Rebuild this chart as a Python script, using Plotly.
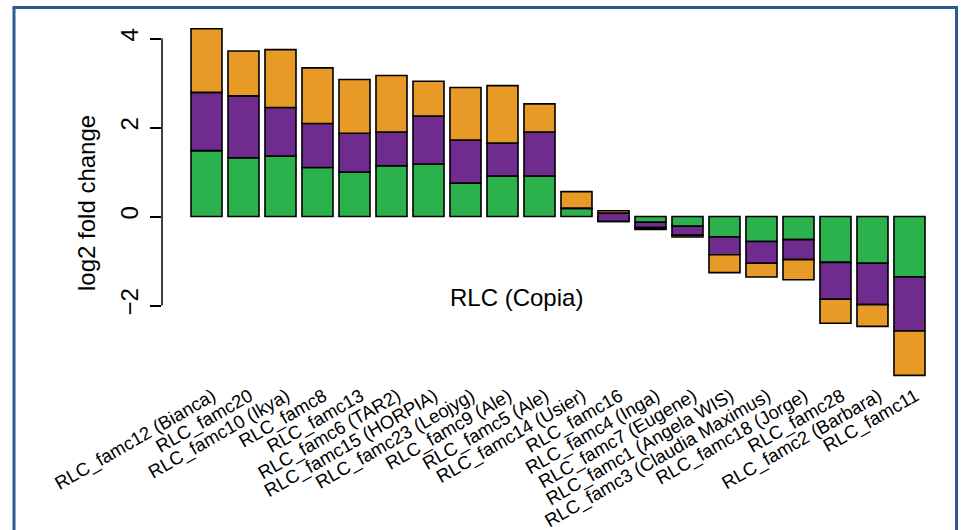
import numpy as np
import plotly.graph_objects as go

# Copia (RLC) families, ordered by total change
families = [
    "RLC_famc12 (Bianca)", "RLC_famc20", "RLC_famc10 (Ikya)", "RLC_famc8",
    "RLC_famc13", "RLC_famc6 (TAR2)", "RLC_famc15 (HORPIA)", "RLC_famc23 (Leojyg)",
    "RLC_famc9 (Ale)", "RLC_famc5 (Ale)", "RLC_famc14 (Usier)", "RLC_famc16",
    "RLC_famc4 (Inga)", "RLC_famc7 (Eugene)", "RLC_famc1 (Angela WIS)",
    "RLC_famc3 (Claudia Maximus)", "RLC_famc18 (Jorge)", "RLC_famc28",
    "RLC_famc2 (Barbara)", "RLC_famc11",
]

# log2 fold change contributed by each of the three stacked components
green_lfc = [1.48, 1.32, 1.36, 1.10, 1.00, 1.14, 1.18, 0.75, 0.91, 0.91,
             0.18, -0.11, -0.13, -0.22, -0.46, -0.56, -0.52, -1.03, -1.05, -1.36]
purple_lfc = [1.31, 1.39, 1.09, 0.99, 0.87, 0.76, 1.08, 0.97, 0.74, 0.99,
              0.01, 0.19, -0.12, -0.20, -0.40, -0.49, -0.45, -0.83, -0.93, -1.21]
orange_lfc = [1.43, 1.01, 1.30, 1.25, 1.21, 1.27, 0.78, 1.18, 1.29, 0.63,
              0.37, 0.05, -0.04, -0.04, -0.40, -0.31, -0.45, -0.54, -0.49, -1.00]

y_ticks = [-2, 0, 2, 4]

segments = [
    ("green", green_lfc, "#2bb24c"),
    ("purple", purple_lfc, "#6f2c8e"),
    ("orange", orange_lfc, "#e89a26"),
]

# Figure geometry (pixels)
W, H = 961, 530
left, right, top, bottom = 162, 950, 20, 378

x = np.arange(len(families))
fig = go.Figure()

# Stack by running sum, as in a classic stacked barplot
base = np.zeros(len(families))
for name, vals, color in segments:
    vals = np.asarray(vals, dtype=float)
    fig.add_trace(go.Bar(
        x=x, y=vals, base=base, name=name, width=0.838,
        marker=dict(color=color, line=dict(color="black", width=1.6)),
        showlegend=False,
    ))
    base = base + vals


def px_to_paper_x(px):
    return (px - left) / (right - left)


def px_to_paper_y(py):
    return 1 - (py - top) / (bottom - top)


font_family = "Liberation Sans, Arial, Helvetica, sans-serif"

fig.update_layout(
    width=W, height=H,
    margin=dict(l=left, r=W - right, t=top, b=H - bottom, pad=0),
    paper_bgcolor="white", plot_bgcolor="white",
    barmode="overlay",
    font=dict(family=font_family, color="black"),
    xaxis=dict(
        range=[-1.2027, 20.095], automargin=False,
        tickvals=list(x), ticktext=families, tickangle=-30,
        tickfont=dict(size=18.5, color="black"),
        ticklabelshift=6, ticklabelstandoff=3,
        showgrid=False, zeroline=False, showline=False, ticks="",
    ),
    yaxis=dict(
        range=[-3.629, 4.4157], automargin=False,
        tickvals=y_ticks, ticktext=[str(v).replace("-", "\u2212") for v in y_ticks],
        tickangle=-90, tickfont=dict(size=24, color="black"),
        ticks="outside", ticklen=11, tickwidth=1.5, tickcolor="black",
        ticklabelstandoff=2,
        showgrid=False, zeroline=False, showline=False,
    ),
    shapes=[
        # y axis spine limited to the tick range
        dict(type="line", xref="paper", yref="y", x0=0, x1=0,
             y0=min(y_ticks), y1=max(y_ticks),
             line=dict(color="black", width=1.5)),
        # blue frame around the figure
        dict(type="line", xref="paper", yref="paper",
             x0=px_to_paper_x(14), x1=px_to_paper_x(14),
             y0=px_to_paper_y(7.5), y1=px_to_paper_y(540),
             line=dict(color="#2c5a95", width=3)),
        dict(type="line", xref="paper", yref="paper",
             x0=px_to_paper_x(12.5), x1=px_to_paper_x(958),
             y0=px_to_paper_y(7.5), y1=px_to_paper_y(7.5),
             line=dict(color="#2c5a95", width=3)),
        dict(type="line", xref="paper", yref="paper",
             x0=px_to_paper_x(956.5), x1=px_to_paper_x(956.5),
             y0=px_to_paper_y(6), y1=px_to_paper_y(540),
             line=dict(color="#2c5a95", width=3)),
    ],
    annotations=[
        dict(text="log2 fold change", xref="paper", yref="paper",
             x=px_to_paper_x(86), y=px_to_paper_y(203), textangle=-90,
             showarrow=False, xanchor="center", yanchor="middle",
             font=dict(size=24, color="black")),
        dict(text="RLC (Copia)", xref="x", yref="y", x=8.39, y=-1.83,
             showarrow=False, xanchor="center", yanchor="middle",
             font=dict(size=24, color="black")),
    ],
)

fig.write_html("out.html")
